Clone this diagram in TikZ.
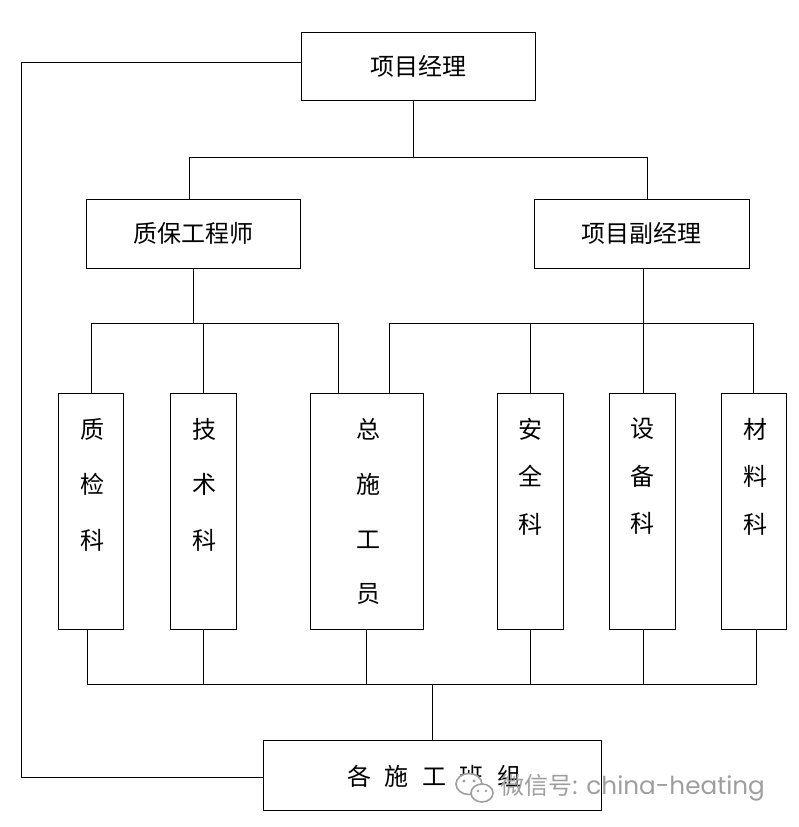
\documentclass[tikz,border=0pt]{standalone}
\usepackage{fontspec}
\setmainfont{Noto Sans CJK SC}
\newfontfamily\wmfont{Poppins}
\begin{document}
\begin{tikzpicture}[x=1pt,y=-1pt,line width=0.8pt,
  box/.style={draw,inner sep=0pt,font=\fontsize{24}{24}\selectfont},
  vbox/.style={draw,inner sep=0pt},
  vtext/.style={inner sep=0pt,align=center},
  wm/.style={inner sep=0pt,text=black!38,font=\fontsize{24}{24}\selectfont},
  wmicon/.style={draw=black!38,line width=1.6pt}]
\useasboundingbox (0,0) rectangle (798,827);
% boxes
\node[box,minimum width=234pt,minimum height=68pt] (pm) at (418.7,66.8) {项目经理};
\node[box,minimum width=214pt,minimum height=69pt] (qe) at (193.8,233.7) {质保工程师};
\node[box,minimum width=215pt,minimum height=69pt] (dpm) at (641.5,233.7) {项目副经理};
\node[vbox,minimum width=65.5pt,minimum height=236pt] (b1) at (90.8,511) {};
\node[vbox,minimum width=66pt,minimum height=236pt] (b2) at (203,511) {};
\node[vbox,minimum width=113pt,minimum height=236pt] (b3) at (366.5,511) {};
\node[vbox,minimum width=66pt,minimum height=236pt] (b4) at (530,511) {};
\node[vbox,minimum width=66pt,minimum height=236pt] (b5) at (642,511) {};
\node[vbox,minimum width=65pt,minimum height=236pt] (b6) at (753.5,511) {};
\node[box,minimum width=338pt,minimum height=70pt] (team) at (432,775) {};
% texts in tall boxes
\node[vtext,font=\fontsize{24}{55.5}\selectfont] (t1) at (92.8,484.5) {质\\检\\科};
\node[vtext,font=\fontsize{24}{55.5}\selectfont] (t2) at (204,484.5) {技\\术\\科};
\node[vtext,font=\fontsize{24}{54.7}\selectfont] (t3) at (368.7,511.6) {总\\施\\工\\员};
\node[vtext,font=\fontsize{24}{47.5}\selectfont] (t4) at (530.5,476.5) {安\\全\\科};
\node[vtext,font=\fontsize{24}{47.5}\selectfont] (t5) at (642.8,476.5) {设\\备\\科};
\node[vtext,font=\fontsize{24}{47.5}\selectfont] (t6) at (755,476.5) {材\\料\\科};
\node[vtext,font=\fontsize{24}{24}\selectfont] (t7) at (434,776) {各\kern13.5pt 施\kern13.5pt 工\kern13.5pt 班\kern13.5pt 组};
% top bus
\coordinate (a1) at (413,157);
\coordinate (a2) at (189,157);
\coordinate (a3) at (647,157);
\draw (a1 |- pm.south) -- (a1);
\draw (a2 |- qe.north) -- (a2) -- (a3) -- (a3 |- dpm.north);
% left middle bus
\coordinate (l0) at (193,323);
\coordinate (l1) at (91,323);
\coordinate (l2) at (203,323);
\coordinate (l3) at (338,323);
\draw (l0 |- qe.south) -- (l0);
\draw (l1 |- b1.north) -- (l1) -- (l3) -- (l3 |- b3.north);
\draw (l2) -- (l2 |- b2.north);
% right middle bus
\coordinate (r0) at (643,323);
\coordinate (r1) at (389,323);
\coordinate (r2) at (530,323);
\coordinate (r4) at (753,323);
\draw (r0 |- dpm.south) -- (r0);
\draw (r1 |- b3.north) -- (r1) -- (r4) -- (r4 |- b6.north);
\draw (r2) -- (r2 |- b4.north);
\draw (r0) -- (r0 |- b5.north);
% bottom bus
\coordinate (d0) at (432,684);
\coordinate (d1) at (87,684);
\coordinate (d2) at (203,684);
\coordinate (d3) at (366,684);
\coordinate (d4) at (530,684);
\coordinate (d5) at (643,684);
\coordinate (d6) at (756,684);
\draw (d1 |- b1.south) -- (d1) -- (d6) -- (d6 |- b6.south);
\draw (d2 |- b2.south) -- (d2);
\draw (d3 |- b3.south) -- (d3);
\draw (d4 |- b4.south) -- (d4);
\draw (d5 |- b5.south) -- (d5);
\draw (d0) -- (d0 |- team.north);
% left loop
\coordinate (k1) at (21,62.3);
\coordinate (k2) at (21,777);
\draw (k1 -| pm.west) -- (k1) -- (k2) -- (k2 -| team.west);
% watermark
\draw[wmicon,fill=white] (469,784) ellipse [x radius=13pt,y radius=10.5pt];
\fill[black!38] (464,781) circle (1.6pt) (474,781) circle (1.6pt);
\draw[wmicon,fill=white] (482,793) ellipse [x radius=11pt,y radius=9pt];
\fill[black!38] (478,791) circle (1.4pt) (486,791) circle (1.4pt);
\node[wm,anchor=west] (wmt) at (500,788) {微信号{\wmfont\fontsize{24.7}{24.7}\selectfont : china-heating}};
\end{tikzpicture}
\end{document}
